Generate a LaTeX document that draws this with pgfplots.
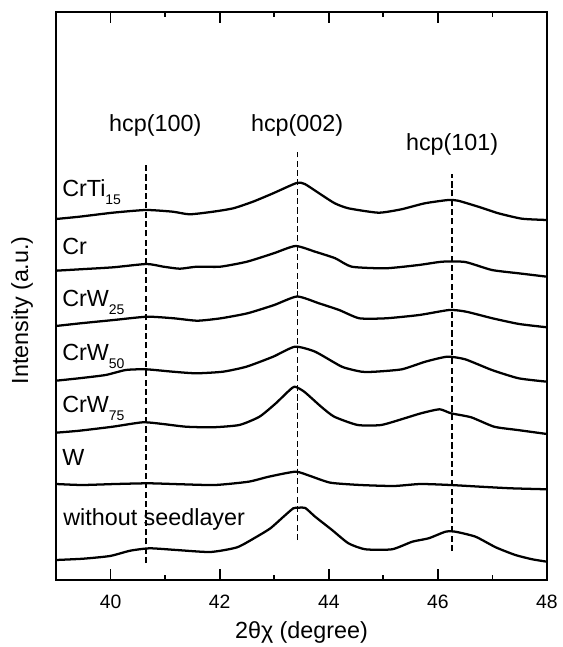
\documentclass[border=0pt]{standalone}
\usepackage{pgfplots}
\pgfplotsset{compat=1.18}
\usepackage{fontspec}
\setmainfont{Liberation Sans}
\begin{document}
\begin{tikzpicture}
\begin{axis}[
  scale only axis, width=368.25pt, height=426pt,
  xmin=39, xmax=48, ymin=0, ymax=568,
  ytick=\empty,
  xtick={40,42,44,46,48}, minor xtick={41,43,45,47},
  tick align=inside, major tick length=8pt, minor tick length=3.5pt,
  every tick/.style={black, line width=1.3pt},
  axis line style={line width=1.8pt},
  /pgf/number format/assume math mode=true,
  xticklabel style={font=\fontsize{14.5}{16}\selectfont, yshift=-8pt},
  xlabel={2θχ (degree)},
  ylabel={Intensity (a.u.)},
  label style={font=\fontsize{17.5}{20}\selectfont},
  x label style={at={(axis description cs:0.5,0)}, anchor=center, yshift=-39pt},
  y label style={at={(axis description cs:-0.069,0.475)}, anchor=center},
  cycle list={{black, solid, no markers}},
]
% frame
\draw[line width=1.9pt] (rel axis cs:0,0) rectangle (rel axis cs:1,1);
% dashed guide lines
\addplot[black, no markers, dash pattern=on 4.5pt off 2.5pt, line width=0.9pt] coordinates {(40.65,17) (40.65,417)};
\addplot[black, no markers, dash pattern=on 4.5pt off 2.5pt, line width=0.9pt] coordinates {(43.42,40) (43.42,428)};
\addplot[black, no markers, dash pattern=on 4.5pt off 2.5pt, line width=0.9pt] coordinates {(46.26,29) (46.26,406)};
\pgfplotsset{every axis plot/.append style={black, solid, no markers, line width=1.7pt, line join=round, smooth, tension=0.35}}
% CrTi15
\addplot coordinates {(39,361) (39.43,363.3) (40.04,367.3) (40.65,370) (41.14,368.3) (41.45,365.7) (41.88,368.3) (42.25,371.7) (42.61,378.3) (42.98,386.7) (43.41,397) (43.56,396) (43.87,385) (44.11,376.7) (44.36,371.7) (44.91,367.3) (45.33,370.7) (45.76,376.7) (46.19,380) (46.37,379.3) (46.74,373.3) (47.11,366.7) (47.54,361.3) (48,360)};
% Cr
\addplot coordinates {(39,309.3) (39.44,310.7) (40.05,312.7) (40.66,316) (40.97,313.3) (41.27,311.3) (41.58,313.3) (42.01,313.3) (42.50,318.3) (42.99,326.7) (43.39,334) (43.75,328.3) (44.12,321.7) (44.42,313.3) (45.04,311.7) (45.65,315) (46.08,318.3) (46.50,318) (46.99,310) (47.48,306.7) (48,303.3)};
% CrW25
\addplot coordinates {(39,254) (39.45,256.7) (40.06,260) (40.67,263.3) (41.16,261.7) (41.59,259.3) (42.02,261.7) (42.51,266.7) (43.00,275) (43.42,283.5) (43.82,276.7) (44.19,270) (44.56,261.7) (45.05,261.7) (45.66,265) (46.21,270) (46.52,268.3) (47.00,261.7) (47.49,256) (48,252.7)};
% CrW50
\addplot coordinates {(39,199.3) (39.42,201.7) (39.91,205) (40.28,210) (40.65,210.7) (41.14,208.3) (41.57,206.7) (42.06,208.3) (42.49,213.3) (42.98,223.3) (43.38,233.3) (43.75,228.3) (44.24,213.3) (44.60,208.3) (44.85,208.3) (45.34,210.7) (45.77,218.3) (46.17,223.3) (46.50,220.7) (46.99,210) (47.48,201.7) (48,198.3)};
% CrW75
\addplot coordinates {(39,147.3) (39.43,149.3) (40.04,153.3) (40.59,157.7) (40.96,156) (41.38,153.3) (41.87,152.7) (42.36,155) (42.73,163.3) (43.03,176.7) (43.22,186.7) (43.37,193.3) (43.55,188.3) (43.86,173.3) (44.10,163.3) (44.53,155) (44.96,155) (45.39,161.7) (45.69,166.7) (46.03,170.7) (46.24,166.7) (46.61,162.7) (47.03,153.3) (47.46,150) (48,146)};
% W
\addplot coordinates {(39,96) (39.48,95) (40.09,96) (40.70,96.7) (41.31,95.7) (41.92,95) (42.53,98.3) (42.90,103.3) (43.39,108.3) (43.66,104) (44.03,97.3) (44.58,95) (45.19,94) (45.68,96) (46.23,95) (46.78,93.3) (47.34,91.7) (48,90.7)};
% without seedlayer
\addplot coordinates {(39,20) (39.50,21.3) (39.99,24) (40.36,29.3) (40.72,31.7) (41.21,30) (41.83,28) (42.32,32.7) (42.68,43.3) (42.93,51.7) (43.17,63.3) (43.35,71.7) (43.45,72.3) (43.57,72) (43.75,63.3) (44.06,50) (44.36,36.7) (44.67,30.7) (45.16,30.7) (45.53,38.3) (45.83,41.7) (46.14,48.3) (46.32,48.3) (46.69,43.3) (47.06,32.7) (47.42,25) (47.73,20.7) (48,18.3)};
% labels
\begin{scope}[every node/.style={inner sep=0pt, anchor=base west, font=\fontsize{17.5}{20}\selectfont}]
\node at (axis cs:39.11,383) {CrTi\raisebox{-6pt}{\fontsize{10.5}{12}\selectfont 15}};
\node at (axis cs:39.11,325) {Cr};
\node at (axis cs:39.11,273) {CrW\raisebox{-6pt}{\fontsize{10.5}{12}\selectfont 25}};
\node at (axis cs:39.11,219.3) {CrW\raisebox{-6pt}{\fontsize{10.5}{12}\selectfont 50}};
\node at (axis cs:39.11,167) {CrW\raisebox{-6pt}{\fontsize{10.5}{12}\selectfont 75}};
\node at (axis cs:39.11,114) {W};
\node at (axis cs:39.13,55) {without seedlayer};
\end{scope}
\begin{scope}[every node/.style={inner sep=0pt, anchor=center, font=\fontsize{17.5}{20}\selectfont}]
\node at (axis cs:40.82,455) {hcp(100)};
\node at (axis cs:43.42,455) {hcp(002)};
\node at (axis cs:46.26,436) {hcp(101)};
\end{scope}
\end{axis}
\pgfresetboundingbox
\useasboundingbox (-42pt,-50.25pt) rectangle (379.5pt,435pt);
\end{tikzpicture}
\end{document}
